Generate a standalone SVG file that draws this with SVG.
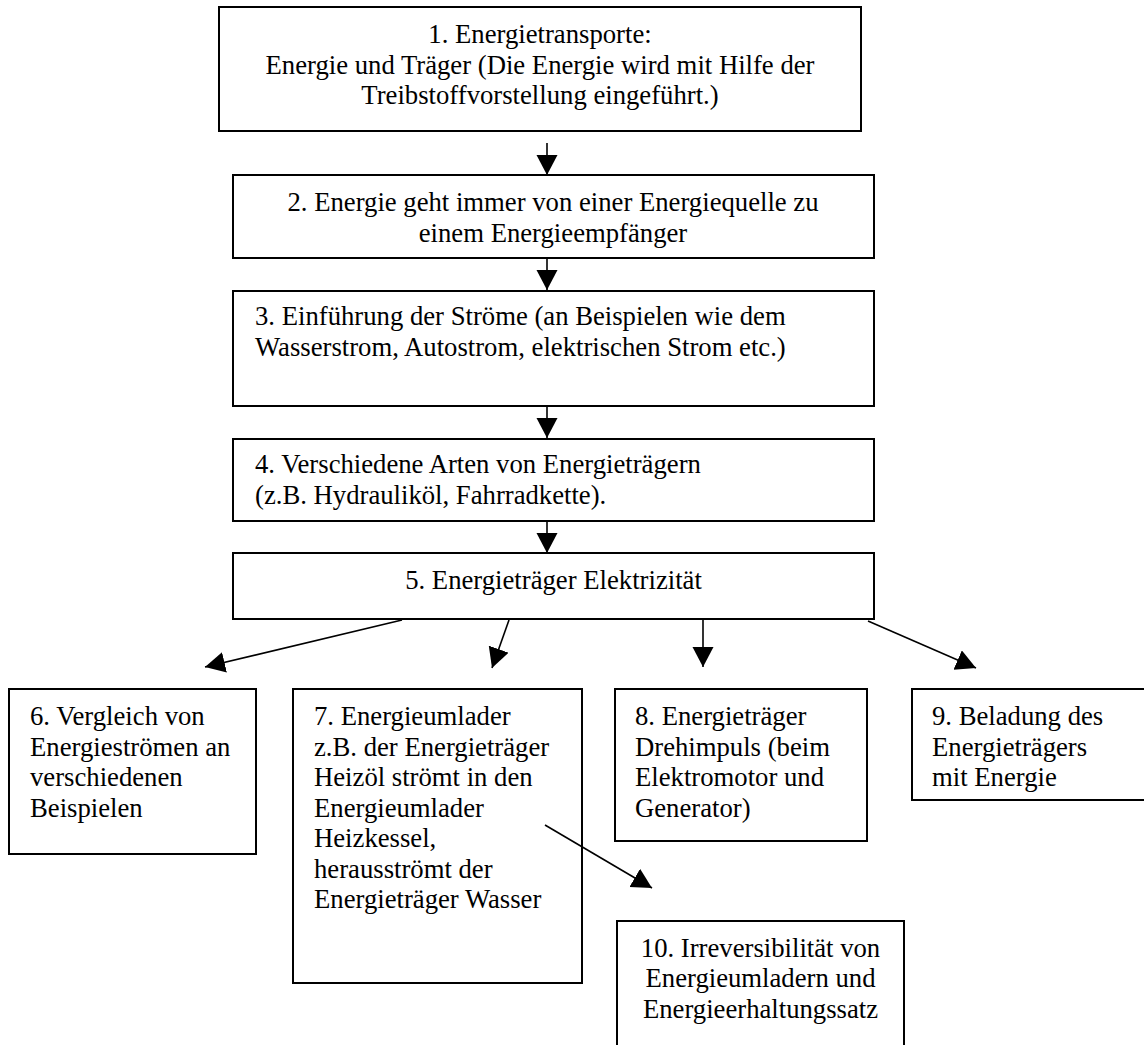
<svg xmlns="http://www.w3.org/2000/svg" width="1144" height="1045" viewBox="0 0 1144 1045">
<style>
.box{fill:#fff;stroke:#000;stroke-width:2}
.t{font-family:"Liberation Serif","Times New Roman",serif;font-size:26.7px;fill:#000}
.c{text-anchor:middle}
.con{stroke:#000;stroke-width:1.6;fill:none}
</style>
<defs>
<marker id="ah" markerUnits="userSpaceOnUse" markerWidth="22" markerHeight="22" refX="20" refY="10.5" orient="auto" viewBox="0 0 22 22">
<path d="M0,0 L20,10.5 L0,21 Z" fill="#000"/>
</marker>
</defs>
<rect width="1144" height="1045" fill="#fff"/>
<g id="n1">
<rect class="box" x="219" y="7" width="642" height="124"/>
<text class="t c" x="540" y="43">1. Energietransporte:</text>
<text class="t c" x="540" y="73.5">Energie und Träger (Die Energie wird mit Hilfe der</text>
<text class="t c" x="540" y="104">Treibstoffvorstellung eingeführt.)</text>
</g>
<g id="n2">
<rect class="box" x="233" y="175" width="641" height="83"/>
<text class="t c" x="553" y="211">2. Energie geht immer von einer Energiequelle zu</text>
<text class="t c" x="553" y="241.5">einem Energieempfänger</text>
</g>
<g id="n3">
<rect class="box" x="233" y="291" width="641" height="115"/>
<text class="t" x="255" y="325">3. Einführung der Ströme (an Beispielen wie dem</text>
<text class="t" x="255" y="356">Wasserstrom, Autostrom, elektrischen Strom etc.)</text>
</g>
<g id="n4">
<rect class="box" x="233" y="439" width="641" height="82"/>
<text class="t" x="255" y="473">4. Verschiedene Arten von Energieträgern</text>
<text class="t" x="255" y="504">(z.B. Hydrauliköl, Fahrradkette).</text>
</g>
<g id="n5">
<rect class="box" x="233" y="553" width="641" height="66"/>
<text class="t c" x="553.5" y="589">5. Energieträger Elektrizität</text>
</g>
<g id="n6">
<rect class="box" x="9" y="689" width="247" height="165"/>
<text class="t" x="30" y="725">6. Vergleich von</text>
<text class="t" x="30" y="755.5">Energieströmen an</text>
<text class="t" x="30" y="786">verschiedenen</text>
<text class="t" x="30" y="816.5">Beispielen</text>
</g>
<g id="n7">
<rect class="box" x="293" y="689" width="289" height="294"/>
<text class="t" x="314" y="725">7. Energieumlader</text>
<text class="t" x="314" y="755.5">z.B. der Energieträger</text>
<text class="t" x="314" y="786">Heizöl strömt in den</text>
<text class="t" x="314" y="816.5">Energieumlader</text>
<text class="t" x="314" y="847">Heizkessel,</text>
<text class="t" x="314" y="877.5">herausströmt der</text>
<text class="t" x="314" y="908">Energieträger Wasser</text>
</g>
<g id="n8">
<rect class="box" x="615" y="689" width="252" height="152"/>
<text class="t" x="635" y="725">8. Energieträger</text>
<text class="t" x="635" y="755.5">Drehimpuls (beim</text>
<text class="t" x="635" y="786">Elektromotor und</text>
<text class="t" x="635" y="816.5">Generator)</text>
</g>
<g id="n9">
<rect class="box" x="912" y="689" width="260" height="111"/>
<text class="t" x="932" y="725">9. Beladung des</text>
<text class="t" x="932" y="755.5">Energieträgers</text>
<text class="t" x="932" y="786">mit Energie</text>
</g>
<g id="n10">
<rect class="box" x="617" y="921" width="287" height="140"/>
<text class="t c" x="760.5" y="956.5">10. Irreversibilität von</text>
<text class="t c" x="760.5" y="987">Energieumladern und</text>
<text class="t c" x="760.5" y="1017.5">Energieerhaltungssatz</text>
</g>
<g id="connectors">
<line class="con" x1="547" y1="143" x2="547" y2="175" marker-end="url(#ah)"/>
<line class="con" x1="547" y1="258" x2="547" y2="290" marker-end="url(#ah)"/>
<line class="con" x1="547" y1="406" x2="547" y2="438" marker-end="url(#ah)"/>
<line class="con" x1="547" y1="521" x2="547" y2="553" marker-end="url(#ah)"/>
<line class="con" x1="402" y1="620" x2="205" y2="667" marker-end="url(#ah)"/>
<line class="con" x1="509" y1="620" x2="492" y2="668" marker-end="url(#ah)"/>
<line class="con" x1="703" y1="620" x2="703" y2="667" marker-end="url(#ah)"/>
<line class="con" x1="868" y1="621" x2="976" y2="668" marker-end="url(#ah)"/>
<line class="con" x1="545" y1="825" x2="652" y2="888" marker-end="url(#ah)"/>
</g>
</svg>
